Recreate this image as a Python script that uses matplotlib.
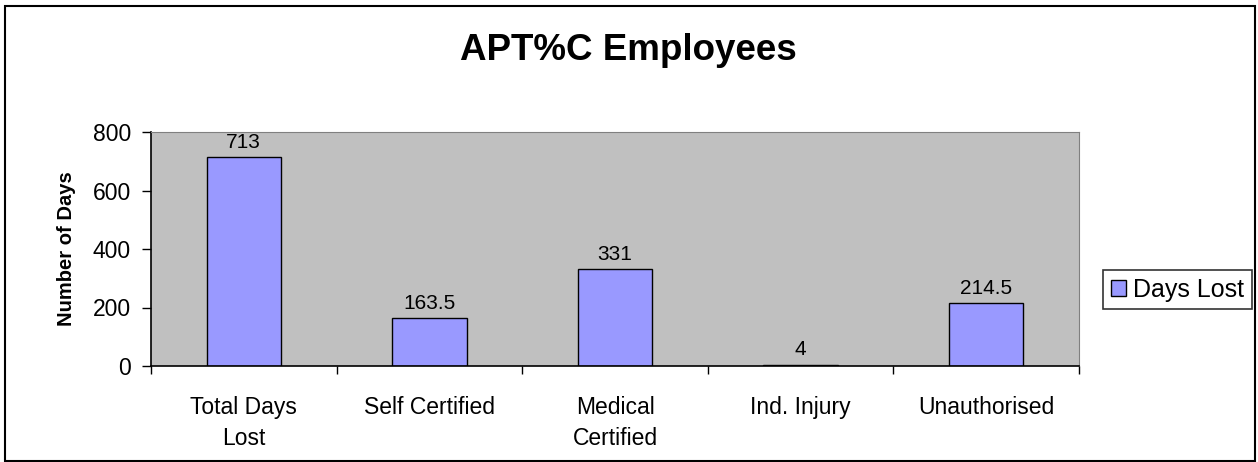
import matplotlib.pyplot as plt
from matplotlib.patches import Rectangle

plt.rcParams['font.family'] = ['Liberation Sans', 'DejaVu Sans']

# Data
categories = ["Total Days\nLost", "Self Certified", "Medical\nCertified", "Ind. Injury", "Unauthorised"]
days_lost = [713, 163.5, 331, 4, 214.5]
value_labels = ["713", "163.5", "331", "4", "214.5"]

W, H = 1258, 462
fig = plt.figure(figsize=(W / 100, H / 100), dpi=100)

# outer chart border
fig.patches.append(Rectangle((5 / W, 1 - 461 / H), 1250 / W, 455 / H, transform=fig.transFigure,
                             fill=False, edgecolor='black', linewidth=1.5))

ax = fig.add_axes([151 / W, 1 - 366 / H, (1079 - 151) / W, (366 - 132) / H])
ax.set_facecolor('#C0C0C0')

x = list(range(len(categories)))
ax.bar(x, days_lost, width=0.4, color='#9999FF', edgecolor='black', linewidth=1,
       label='Days Lost', zorder=2)

for xi, v, lab in zip(x, days_lost, value_labels):
    ax.annotate(lab, (xi, v), xytext=(0, 4), textcoords='offset points',
                ha='center', va='bottom', fontsize=15)

ax.set_xlim(-0.5, len(categories) - 0.5)
ax.set_ylim(0, 800)
ax.set_yticks([0, 200, 400, 600, 800])
ax.tick_params(axis='y', labelsize=16.5, length=6.5, width=1, direction='out', pad=8)

# category labels between boundary ticks
ax.set_xticks([i - 0.5 for i in range(len(categories) + 1)])
ax.set_xticklabels([])
ax.tick_params(axis='x', length=6, width=1, direction='out')
for xi, cat in zip(x, categories):
    ax.text(xi, -0.13, cat, transform=ax.get_xaxis_transform(), ha='center', va='top',
            fontsize=16.5, linespacing=1.4)

for s in ['top', 'right']:
    ax.spines[s].set_color('#808080')
for s in ['left', 'bottom']:
    ax.spines[s].set_color('black')
    ax.spines[s].set_linewidth(1.2)

ax.set_ylabel("Number of Days", fontsize=14.5, fontweight='bold', labelpad=12)

fig.text(628 / W, 1 - 50 / H, "APT%C Employees", ha='center', va='center',
         fontsize=26.5, fontweight='bold')

leg = fig.legend(loc='upper left', bbox_to_anchor=(1103 / W, 1 - 270 / H), fontsize=18,
                 frameon=True, fancybox=False, edgecolor='black', handlelength=0.6,
                 handleheight=0.6, handletextpad=0.3, borderpad=0.3, borderaxespad=0)
leg.get_frame().set_linewidth(1.2)

fig.savefig("out.png", dpi=100)
